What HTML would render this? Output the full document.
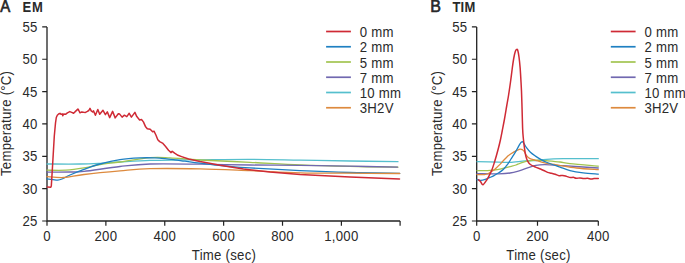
<!DOCTYPE html>
<html><head><meta charset="utf-8"><style>
html,body{margin:0;padding:0;background:#fff;}
body{width:685px;height:263px;overflow:hidden;}
svg{display:block;font-family:"Liberation Sans", sans-serif;}
text{fill:#2a2a2a;letter-spacing:0.25px;}
</style></head><body>
<svg width="685" height="263" viewBox="0 0 685 263">
<rect width="685" height="263" fill="#fff"/>
<path d="M47.0,26.9 L47.0,221.00000000000003 L400.1,221.00000000000003" fill="none" stroke="#222" stroke-width="1.3"/>
<path d="M42.20,26.90 L47.00,26.90 M42.20,59.25 L47.00,59.25 M42.20,91.60 L47.00,91.60 M42.20,123.95 L47.00,123.95 M42.20,156.30 L47.00,156.30 M42.20,188.65 L47.00,188.65 M42.20,221.00 L47.00,221.00 M47.00,221.00 L47.00,225.80 M105.88,221.00 L105.88,225.80 M164.76,221.00 L164.76,225.80 M223.64,221.00 L223.64,225.80 M282.52,221.00 L282.52,225.80 M341.40,221.00 L341.40,225.80 M400.10,221.00 L400.10,225.80" fill="none" stroke="#222" stroke-width="1.2"/>
<text transform="translate(37.70,31.80) scale(1,1.1)" text-anchor="end" font-size="13.2" font-weight="normal" >55</text>
<text transform="translate(37.70,64.15) scale(1,1.1)" text-anchor="end" font-size="13.2" font-weight="normal" >50</text>
<text transform="translate(37.70,96.50) scale(1,1.1)" text-anchor="end" font-size="13.2" font-weight="normal" >45</text>
<text transform="translate(37.70,128.85) scale(1,1.1)" text-anchor="end" font-size="13.2" font-weight="normal" >40</text>
<text transform="translate(37.70,161.20) scale(1,1.1)" text-anchor="end" font-size="13.2" font-weight="normal" >35</text>
<text transform="translate(37.70,193.55) scale(1,1.1)" text-anchor="end" font-size="13.2" font-weight="normal" >30</text>
<text transform="translate(37.70,225.90) scale(1,1.1)" text-anchor="end" font-size="13.2" font-weight="normal" >25</text>
<text transform="translate(47.00,240.90) scale(1,1.1)" text-anchor="middle" font-size="13.2" font-weight="normal" >0</text>
<text transform="translate(105.88,240.90) scale(1,1.1)" text-anchor="middle" font-size="13.2" font-weight="normal" >200</text>
<text transform="translate(164.76,240.90) scale(1,1.1)" text-anchor="middle" font-size="13.2" font-weight="normal" >400</text>
<text transform="translate(223.64,240.90) scale(1,1.1)" text-anchor="middle" font-size="13.2" font-weight="normal" >600</text>
<text transform="translate(282.52,240.90) scale(1,1.1)" text-anchor="middle" font-size="13.2" font-weight="normal" >800</text>
<text transform="translate(341.40,240.90) scale(1,1.1)" text-anchor="middle" font-size="13.2" font-weight="normal" >1,000</text>
<text transform="translate(224.00,260.20) scale(1,1.1)" text-anchor="middle" font-size="13.2" font-weight="normal" >Time (sec)</text>
<text x="0" y="0" transform="translate(10.70,123.4) rotate(-90) scale(1,1.1)" text-anchor="middle" font-size="13.2">Temperature (°C)</text>
<text transform="translate(0.20,11.60) scale(1,1.07)" text-anchor="start" font-size="15" font-weight="normal" stroke="#222" stroke-width="0.6">A</text>
<text transform="translate(22.40,12.00) scale(1,1.06)" text-anchor="start" font-size="13" font-weight="bold" style="letter-spacing:0.9px">EM</text>
<path d="M326.10,31.50 L350.90,31.50" stroke="#cf2a35" stroke-width="1.7"/>
<text transform="translate(359.70,37.05) scale(1,1.1)" text-anchor="start" font-size="13.2" font-weight="normal" >0 mm</text>
<path d="M326.10,46.75 L350.90,46.75" stroke="#1f80c2" stroke-width="1.7"/>
<text transform="translate(359.70,52.30) scale(1,1.1)" text-anchor="start" font-size="13.2" font-weight="normal" >2 mm</text>
<path d="M326.10,62.00 L350.90,62.00" stroke="#a2c451" stroke-width="1.7"/>
<text transform="translate(359.70,67.55) scale(1,1.1)" text-anchor="start" font-size="13.2" font-weight="normal" >5 mm</text>
<path d="M326.10,77.25 L350.90,77.25" stroke="#7168b0" stroke-width="1.7"/>
<text transform="translate(359.70,82.80) scale(1,1.1)" text-anchor="start" font-size="13.2" font-weight="normal" >7 mm</text>
<path d="M326.10,92.50 L350.90,92.50" stroke="#55bfcd" stroke-width="1.7"/>
<text transform="translate(359.70,98.05) scale(1,1.1)" text-anchor="start" font-size="13.2" font-weight="normal" >10 mm</text>
<path d="M326.10,107.75 L350.90,107.75" stroke="#dd8a3e" stroke-width="1.7"/>
<text transform="translate(359.70,113.30) scale(1,1.1)" text-anchor="start" font-size="13.2" font-weight="normal" >3H2V</text>
<path d="M47.00,164.00 C52.50,164.00 71.17,164.12 80.00,164.00 C88.83,163.88 93.33,163.63 100.00,163.30 C106.67,162.97 111.67,162.48 120.00,162.00 C128.33,161.52 140.00,160.73 150.00,160.40 C160.00,160.07 171.67,160.10 180.00,160.00 C188.33,159.90 188.33,159.92 200.00,159.80 C211.67,159.68 233.33,159.25 250.00,159.30 C266.67,159.35 283.33,159.82 300.00,160.10 C316.67,160.38 333.67,160.73 350.00,161.00 C366.33,161.27 390.00,161.58 398.00,161.70" fill="none" stroke="#55bfcd" stroke-width="1.3" stroke-linejoin="round" stroke-linecap="round"/>
<path d="M47.00,170.20 C50.17,170.20 59.83,170.58 66.00,170.20 C72.17,169.82 78.33,168.85 84.00,167.90 C89.67,166.95 94.00,165.48 100.00,164.50 C106.00,163.52 111.67,163.15 120.00,162.00 C128.33,160.85 141.67,158.30 150.00,157.60 C158.33,156.90 161.67,157.40 170.00,157.80 C178.33,158.20 186.67,159.25 200.00,160.00 C213.33,160.75 233.33,161.48 250.00,162.30 C266.67,163.12 283.33,164.22 300.00,164.90 C316.67,165.58 333.67,166.02 350.00,166.40 C366.33,166.78 390.00,167.07 398.00,167.20" fill="none" stroke="#a2c451" stroke-width="1.3" stroke-linejoin="round" stroke-linecap="round"/>
<path d="M47.00,172.20 C50.83,172.17 63.83,172.13 70.00,172.00 C76.17,171.87 75.67,172.32 84.00,171.40 C92.33,170.48 109.00,167.73 120.00,166.50 C131.00,165.27 136.67,164.38 150.00,164.00 C163.33,163.62 183.33,164.03 200.00,164.20 C216.67,164.37 233.33,164.82 250.00,165.00 C266.67,165.18 283.33,165.10 300.00,165.30 C316.67,165.50 333.75,165.90 350.00,166.20 C366.25,166.50 389.58,166.95 397.50,167.10" fill="none" stroke="#7168b0" stroke-width="1.3" stroke-linejoin="round" stroke-linecap="round"/>
<path d="M47.00,178.90 C48.00,179.02 51.22,179.40 53.00,179.60 C54.78,179.80 56.20,180.20 57.70,180.10 C59.20,180.00 59.95,179.85 62.00,179.00 C64.05,178.15 66.33,176.60 70.00,175.00 C73.67,173.40 79.00,171.23 84.00,169.40 C89.00,167.57 94.00,165.63 100.00,164.00 C106.00,162.37 113.33,160.62 120.00,159.60 C126.67,158.58 134.17,158.18 140.00,157.90 C145.83,157.62 150.83,157.78 155.00,157.90 C159.17,158.02 161.67,158.28 165.00,158.60 C168.33,158.92 171.67,159.37 175.00,159.80 C178.33,160.23 180.83,160.63 185.00,161.20 C189.17,161.77 195.00,162.57 200.00,163.20 C205.00,163.83 210.00,164.45 215.00,165.00 C220.00,165.55 224.17,166.02 230.00,166.50 C235.83,166.98 238.33,167.22 250.00,167.90 C261.67,168.58 283.33,169.83 300.00,170.60 C316.67,171.37 333.38,172.03 350.00,172.50 C366.62,172.97 391.42,173.25 399.70,173.40" fill="none" stroke="#1f80c2" stroke-width="1.3" stroke-linejoin="round" stroke-linecap="round"/>
<path d="M47.00,176.70 C49.83,176.83 57.83,177.87 64.00,177.50 C70.17,177.13 74.67,175.60 84.00,174.50 C93.33,173.40 109.00,171.87 120.00,170.90 C131.00,169.93 136.67,169.03 150.00,168.70 C163.33,168.37 183.33,168.57 200.00,168.90 C216.67,169.23 233.33,170.05 250.00,170.70 C266.67,171.35 283.33,172.38 300.00,172.80 C316.67,173.22 333.38,173.08 350.00,173.20 C366.62,173.32 391.42,173.45 399.70,173.50" fill="none" stroke="#dd8a3e" stroke-width="1.3" stroke-linejoin="round" stroke-linecap="round"/>
<path d="M47.30,187.00 L50.80,187.20 L51.30,186.00 L52.30,170.00 L53.30,153.00 L54.30,136.00 L55.50,123.00 L56.30,117.50 L57.30,115.20 L58.60,114.00 L60.00,113.30 L61.20,114.30 L62.20,113.80 L62.80,115.70 L63.60,114.10 L65.50,114.30 L67.40,112.80 L69.80,111.60 L71.70,112.40 L73.60,113.30 L76.00,110.90 L77.90,109.00 L78.80,110.50 L80.00,112.80 L81.70,111.90 L83.60,112.20 L85.50,112.40 L87.40,111.40 L88.80,110.50 L90.00,108.40 L91.20,110.90 L92.60,111.90 L93.50,110.90 L95.40,115.20 L97.80,109.50 L99.70,114.30 L103.00,110.30 L105.40,114.70 L107.30,111.90 L109.70,117.60 L112.60,111.40 L115.20,117.90 L118.30,113.80 L119.70,114.10 L122.10,117.10 L124.40,115.20 L126.80,116.60 L129.20,113.30 L131.40,117.10 L134.90,112.40 L136.80,116.60 L139.60,120.00 L141.50,119.50 L143.40,121.90 L145.40,126.40 L147.30,128.70 L150.20,129.30 L152.60,131.70 L154.00,131.20 L155.90,135.00 L157.80,139.70 L159.70,141.60 L162.50,143.10 L165.40,146.30 L168.50,150.20 L171.10,152.60 L172.20,151.30 L174.60,153.20 L178.00,155.30 L181.60,156.60 L188.60,159.00 L200.00,161.60 L205.50,162.40 L220.00,165.30 L243.40,169.00 L270.00,172.00 L300.00,174.50 L350.00,177.00 L399.50,178.90" fill="none" stroke="#cf2a35" stroke-width="1.5" stroke-linejoin="round" stroke-linecap="round"/>
<path d="M476.7,26.9 L476.7,221.00000000000003 L598.3,221.00000000000003" fill="none" stroke="#222" stroke-width="1.3"/>
<path d="M471.90,26.90 L476.70,26.90 M471.90,59.25 L476.70,59.25 M471.90,91.60 L476.70,91.60 M471.90,123.95 L476.70,123.95 M471.90,156.30 L476.70,156.30 M471.90,188.65 L476.70,188.65 M471.90,221.00 L476.70,221.00 M476.70,221.00 L476.70,225.80 M537.50,221.00 L537.50,225.80 M598.30,221.00 L598.30,225.80" fill="none" stroke="#222" stroke-width="1.2"/>
<text transform="translate(467.40,31.80) scale(1,1.1)" text-anchor="end" font-size="13.2" font-weight="normal" >55</text>
<text transform="translate(467.40,64.15) scale(1,1.1)" text-anchor="end" font-size="13.2" font-weight="normal" >50</text>
<text transform="translate(467.40,96.50) scale(1,1.1)" text-anchor="end" font-size="13.2" font-weight="normal" >45</text>
<text transform="translate(467.40,128.85) scale(1,1.1)" text-anchor="end" font-size="13.2" font-weight="normal" >40</text>
<text transform="translate(467.40,161.20) scale(1,1.1)" text-anchor="end" font-size="13.2" font-weight="normal" >35</text>
<text transform="translate(467.40,193.55) scale(1,1.1)" text-anchor="end" font-size="13.2" font-weight="normal" >30</text>
<text transform="translate(467.40,225.90) scale(1,1.1)" text-anchor="end" font-size="13.2" font-weight="normal" >25</text>
<text transform="translate(476.70,240.90) scale(1,1.1)" text-anchor="middle" font-size="13.2" font-weight="normal" >0</text>
<text transform="translate(537.50,240.90) scale(1,1.1)" text-anchor="middle" font-size="13.2" font-weight="normal" >200</text>
<text transform="translate(598.30,240.90) scale(1,1.1)" text-anchor="middle" font-size="13.2" font-weight="normal" >400</text>
<text transform="translate(538.50,260.20) scale(1,1.1)" text-anchor="middle" font-size="13.2" font-weight="normal" >Time (sec)</text>
<text x="0" y="0" transform="translate(441.50,123.4) rotate(-90) scale(1,1.1)" text-anchor="middle" font-size="13.2">Temperature (°C)</text>
<text transform="translate(430.30,11.60) scale(1,1.0)" text-anchor="start" font-size="16" font-weight="normal" stroke="#222" stroke-width="0.6">B</text>
<text transform="translate(452.40,12.00) scale(1,1.06)" text-anchor="start" font-size="13" font-weight="bold" >TIM</text>
<path d="M610.80,31.50 L635.60,31.50" stroke="#cf2a35" stroke-width="1.7"/>
<text transform="translate(644.40,37.05) scale(1,1.1)" text-anchor="start" font-size="13.2" font-weight="normal" >0 mm</text>
<path d="M610.80,46.75 L635.60,46.75" stroke="#1f80c2" stroke-width="1.7"/>
<text transform="translate(644.40,52.30) scale(1,1.1)" text-anchor="start" font-size="13.2" font-weight="normal" >2 mm</text>
<path d="M610.80,62.00 L635.60,62.00" stroke="#a2c451" stroke-width="1.7"/>
<text transform="translate(644.40,67.55) scale(1,1.1)" text-anchor="start" font-size="13.2" font-weight="normal" >5 mm</text>
<path d="M610.80,77.25 L635.60,77.25" stroke="#7168b0" stroke-width="1.7"/>
<text transform="translate(644.40,82.80) scale(1,1.1)" text-anchor="start" font-size="13.2" font-weight="normal" >7 mm</text>
<path d="M610.80,92.50 L635.60,92.50" stroke="#55bfcd" stroke-width="1.7"/>
<text transform="translate(644.40,98.05) scale(1,1.1)" text-anchor="start" font-size="13.2" font-weight="normal" >10 mm</text>
<path d="M610.80,107.75 L635.60,107.75" stroke="#dd8a3e" stroke-width="1.7"/>
<text transform="translate(644.40,113.30) scale(1,1.1)" text-anchor="start" font-size="13.2" font-weight="normal" >3H2V</text>
<path d="M477.00,161.70 C480.63,161.78 493.30,162.08 498.80,162.20 C504.30,162.32 505.60,162.62 510.00,162.40 C514.40,162.18 520.87,161.20 525.20,160.90 C529.53,160.60 532.98,160.82 536.00,160.60 C539.02,160.38 538.75,159.92 543.30,159.60 C547.85,159.28 554.13,158.85 563.30,158.70 C572.47,158.55 592.47,158.70 598.30,158.70" fill="none" stroke="#55bfcd" stroke-width="1.3" stroke-linejoin="round" stroke-linecap="round"/>
<path d="M477.00,173.70 C480.63,173.72 493.30,173.92 498.80,173.80 C504.30,173.68 506.62,173.50 510.00,173.00 C513.38,172.50 516.05,171.68 519.10,170.80 C522.15,169.92 525.50,168.60 528.30,167.70 C531.10,166.80 533.12,165.90 535.90,165.40 C538.68,164.90 540.43,164.65 545.00,164.70 C549.57,164.75 554.42,165.15 563.30,165.70 C572.18,166.25 592.47,167.62 598.30,168.00" fill="none" stroke="#7168b0" stroke-width="1.3" stroke-linejoin="round" stroke-linecap="round"/>
<path d="M477.00,170.70 C478.73,170.68 484.57,170.72 487.40,170.60 C490.23,170.48 491.90,170.25 494.00,170.00 C496.10,169.75 498.17,169.47 500.00,169.10 C501.83,168.73 503.10,168.27 505.00,167.80 C506.90,167.33 509.57,166.77 511.40,166.30 C513.23,165.83 514.57,165.50 516.00,165.00 C517.43,164.50 518.33,163.90 520.00,163.30 C521.67,162.70 523.83,161.90 526.00,161.40 C528.17,160.90 530.67,160.48 533.00,160.30 C535.33,160.12 537.85,160.23 540.00,160.30 C542.15,160.37 542.57,160.42 545.90,160.70 C549.23,160.98 555.98,161.50 560.00,162.00 C564.02,162.50 563.62,163.00 570.00,163.70 C576.38,164.40 593.58,165.78 598.30,166.20" fill="none" stroke="#a2c451" stroke-width="1.3" stroke-linejoin="round" stroke-linecap="round"/>
<path d="M477.00,174.60 C478.25,174.60 482.67,174.77 484.50,174.60 C486.33,174.43 486.92,174.07 488.00,173.60 C489.08,173.13 490.00,172.40 491.00,171.80 C492.00,171.20 493.08,170.67 494.00,170.00 C494.92,169.33 495.50,168.73 496.50,167.80 C497.50,166.87 498.95,165.48 500.00,164.40 C501.05,163.32 501.85,162.32 502.80,161.30 C503.75,160.28 504.75,159.25 505.70,158.30 C506.65,157.35 507.55,156.40 508.50,155.60 C509.45,154.80 510.15,154.28 511.40,153.50 C512.65,152.72 514.57,151.63 516.00,150.90 C517.43,150.17 518.93,149.30 520.00,149.10 C521.07,148.90 521.67,149.28 522.40,149.70 C523.13,150.12 523.67,150.55 524.40,151.60 C525.13,152.65 525.87,154.83 526.80,156.00 C527.73,157.17 528.55,157.88 530.00,158.60 C531.45,159.32 532.85,159.53 535.50,160.30 C538.15,161.07 542.38,162.45 545.90,163.20 C549.42,163.95 551.48,164.00 556.60,164.80 C561.72,165.60 569.65,167.18 576.60,168.00 C583.55,168.82 594.68,169.42 598.30,169.70" fill="none" stroke="#dd8a3e" stroke-width="1.3" stroke-linejoin="round" stroke-linecap="round"/>
<path d="M477.00,179.70 C477.62,179.80 479.20,180.42 480.70,180.30 C482.20,180.18 484.45,179.48 486.00,179.00 C487.55,178.52 488.67,177.97 490.00,177.40 C491.33,176.83 492.83,176.20 494.00,175.60 C495.17,175.00 495.92,174.47 497.00,173.80 C498.08,173.13 499.42,172.37 500.50,171.60 C501.58,170.83 502.58,170.08 503.50,169.20 C504.42,168.32 505.15,167.35 506.00,166.30 C506.85,165.25 507.77,164.12 508.60,162.90 C509.43,161.68 510.15,160.33 511.00,159.00 C511.85,157.67 512.68,156.55 513.70,154.90 C514.72,153.25 516.05,150.95 517.10,149.10 C518.15,147.25 519.22,145.00 520.00,143.80 C520.78,142.60 521.25,142.13 521.80,141.90 C522.35,141.67 522.52,141.43 523.30,142.40 C524.08,143.37 525.32,146.07 526.50,147.70 C527.68,149.33 528.90,150.80 530.40,152.20 C531.90,153.60 533.78,154.90 535.50,156.10 C537.22,157.30 538.97,158.42 540.70,159.40 C542.43,160.38 543.95,161.15 545.90,162.00 C547.85,162.85 550.05,163.65 552.40,164.50 C554.75,165.35 557.07,166.08 560.00,167.10 C562.93,168.12 566.13,169.63 570.00,170.60 C573.87,171.57 578.48,172.30 583.20,172.90 C587.92,173.50 595.78,173.98 598.30,174.20" fill="none" stroke="#1f80c2" stroke-width="1.3" stroke-linejoin="round" stroke-linecap="round"/>
<path d="M478.50,179.80 C478.83,180.08 479.75,180.68 480.50,181.50 C481.25,182.32 481.92,185.03 483.00,184.70 C484.08,184.37 485.92,181.12 487.00,179.50 C488.08,177.88 488.70,176.55 489.50,175.00 C490.30,173.45 491.02,172.20 491.80,170.20 C492.58,168.20 493.42,165.50 494.20,163.00 C494.98,160.50 495.77,157.78 496.50,155.20 C497.23,152.62 497.95,150.03 498.60,147.50 C499.25,144.97 499.80,142.75 500.40,140.00 C501.00,137.25 501.52,134.50 502.20,131.00 C502.88,127.50 503.75,123.17 504.50,119.00 C505.25,114.83 506.02,110.00 506.70,106.00 C507.38,102.00 507.97,99.00 508.60,95.00 C509.23,91.00 509.88,86.50 510.50,82.00 C511.12,77.50 511.75,72.00 512.30,68.00 C512.85,64.00 513.30,60.75 513.80,58.00 C514.30,55.25 514.82,52.93 515.30,51.50 C515.78,50.07 516.28,49.57 516.70,49.40 C517.12,49.23 517.42,49.23 517.80,50.50 C518.18,51.77 518.62,54.18 519.00,57.00 C519.38,59.82 519.78,63.57 520.10,67.40 C520.42,71.23 520.67,76.00 520.90,80.00 C521.13,84.00 521.30,86.40 521.50,91.40 C521.70,96.40 521.92,103.90 522.10,110.00 C522.28,116.10 522.42,123.50 522.60,128.00 C522.78,132.50 522.88,133.60 523.20,137.00 C523.52,140.40 524.07,145.22 524.50,148.40 C524.93,151.58 525.25,153.95 525.80,156.10 C526.35,158.25 527.03,159.90 527.80,161.30 C528.57,162.70 529.12,163.53 530.40,164.50 C531.68,165.47 533.82,166.35 535.50,167.10 C537.18,167.85 539.12,168.43 540.50,169.00 C541.88,169.57 542.62,169.93 543.80,170.50 C544.98,171.07 546.33,171.93 547.60,172.40 C548.87,172.87 550.13,172.98 551.40,173.30 C552.67,173.62 553.93,173.90 555.20,174.30 C556.47,174.70 557.73,175.52 559.00,175.70 C560.27,175.88 561.53,175.28 562.80,175.40 C564.07,175.52 565.33,176.03 566.60,176.40 C567.87,176.77 569.28,177.45 570.40,177.60 C571.52,177.75 572.35,177.18 573.30,177.30 C574.25,177.42 575.00,178.20 576.10,178.30 C577.20,178.40 578.63,177.87 579.90,177.90 C581.17,177.93 582.43,178.43 583.70,178.50 C584.97,178.57 586.23,178.22 587.50,178.30 C588.77,178.38 590.18,178.95 591.30,179.00 C592.42,179.05 593.03,178.70 594.20,178.60 C595.37,178.50 597.62,178.43 598.30,178.40" fill="none" stroke="#cf2a35" stroke-width="1.5" stroke-linejoin="round" stroke-linecap="round"/>
</svg>
</body></html>
